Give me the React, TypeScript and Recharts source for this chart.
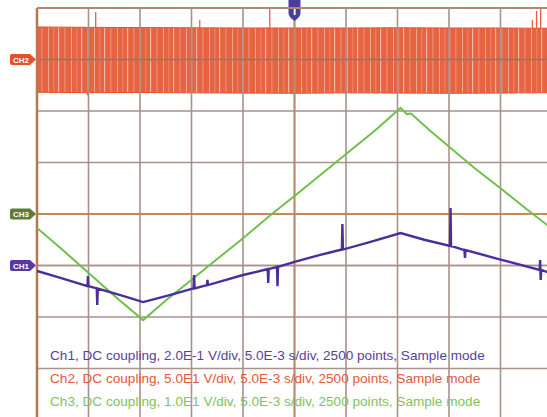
import {
  ComposedChart,
  Line,
  Area,
  XAxis,
  YAxis,
  ReferenceLine,
} from "recharts";

// Time base: 5 ms/div, 10 divisions, trigger at the centre
const TIME_TICKS = [-25, -20, -15, -10, -5, 0, 5, 10, 15, 20, 25];
// Graticule rows, expressed on the Ch3 scale (10 V/div, ground at division 4)
const ROW_TICKS = [-40, -30, -20, -10, 0, 10, 20, 30, 40];

// Ch2 — 50 V/div, ground at division 7. Switching node, drawn as its envelope.
const ch2Time = [-25, -22.5, -20, -15, -10, -5, 0, 5, 10, 15, 20, 22.5, 25];
const ch2High = [31.6, 31.4, 31.2, 31.0, 30.8, 30.6, 30.6, 30.6, 30.8, 30.6, 30.6, 30.4, 30.4];
const ch2Low = [-31.8, -32.0, -32.2, -32.0, -32.4, -32.6, -32.8, -32.4, -32.6, -32.8, -32.6, -32.4, -32.2];
// glitches that poke out of the envelope: [time ms, base V, tip V]
const ch2Spikes: [number, number, number][] = [
  [-20.1, -32.2, -34.6],
  [-19.3, 31.2, 46.1],
  [-9.2, 30.8, 38.3],
  [-2.4, 30.6, 50],
  [23.1, 30.4, 38.3],
  [23.5, 30.4, 47],
  [23.9, 30.4, 50],
];

// Ch3 — 10 V/div, ground at division 4
const ch3Time = [-25, -22.5, -19.9, -17.3, -14.7, -12.5, -10.2, -7.6, -5.0, -2.5, 0, 2.6, 5.1, 7.7, 10.3, 10.9, 11.3, 13.2, 15.1, 17.5, 20.0, 22.3, 24.5, 25];
const ch3Volt = [-2.7, -7.0, -11.6, -16.2, -20.6, -16.8, -13.1, -8.9, -4.7, -0.5, 3.5, 7.7, 11.8, 16.0, 20.6, 19.4, 19.5, 16.1, 12.9, 8.9, 5.0, 1.3, -2.1, -2.9];

// Ch1 — 0.2 V/div, ground at division 3
const ch1Time = [-25, -22.8, -20.1, -20.05, -20.0, -19.2, -19.15, -19.1, -16.9, -14.7, -12.3, -9.8, -9.75, -9.7, -8.5, -8.45, -8.4, -5.0, -2.6, -2.55, -2.5, -1.7, -1.65, -1.6, 0, 2.4, 4.6, 4.65, 4.7, 7.3, 10.3, 12.6, 15.1, 15.15, 15.2, 16.5, 16.55, 16.6, 20.0, 23.8, 23.85, 23.9, 23.95, 24.5, 25];
const ch1Volt = [-0.021, -0.047, -0.08, -0.041, -0.08, -0.089, -0.153, -0.09, -0.115, -0.142, -0.117, -0.089, -0.037, -0.089, -0.076, -0.056, -0.076, -0.037, -0.014, -0.068, -0.014, -0.005, -0.08, -0.005, 0.014, 0.04, 0.062, 0.161, 0.062, 0.091, 0.126, 0.1, 0.076, 0.223, 0.076, 0.06, 0.029, 0.06, 0.023, -0.017, 0.021, -0.056, -0.017, -0.025, -0.031];

const ch2Band = ch2Time.map((t, i) => ({ t, band: [ch2Low[i], ch2High[i]] }));
const ch2SpikeRows = ch2Spikes.flatMap(([t, base, tip]) => [
  { t, v: base },
  { t, v: tip },
  { t: t + 0.001, v: null },
]);
const ch3Rows = ch3Time.map((t, i) => ({ t, v: ch3Volt[i] }));
const ch1Rows = ch1Time.map((t, i) => ({ t, v: ch1Volt[i] }));

const GRID = "#a8928a";
const MARKER_ORANGE = "#cd7b3e";

function ChannelTag(props: { viewBox?: { x: number; y: number }; text: string; fill: string }) {
  const { viewBox, text, fill } = props;
  if (!viewBox) return null;
  const y = viewBox.y;
  const l = viewBox.x - 27;
  const r = viewBox.x - 1;
  const h = 5.5;
  const d = `M${l + 2} ${y - h} L${r - 6} ${y - h} L${r} ${y} L${r - 6} ${y + h} L${l + 2} ${y + h} Q${l} ${y + h} ${l} ${y + h - 2} L${l} ${y - h + 2} Q${l} ${y - h} ${l + 2} ${y - h} Z`;
  return (
    <g>
      <path d={d} fill={fill} />
      <text x={l + 11} y={y + 3} textAnchor="middle" fontSize={8} fontWeight="bold" fill="#fff" fontFamily="Liberation Sans, Arial">
        {text}
      </text>
    </g>
  );
}

// trigger-position flag, sits on the top edge of the screen
function TriggerTag(props: { viewBox?: { x: number; y: number } }) {
  const { viewBox } = props;
  if (!viewBox) return null;
  const x = viewBox.x;
  const top = 0;
  const d = `M${x - 6} ${top} L${x + 6} ${top} L${x + 6} ${top + 13} Q${x + 6} ${top + 17} ${x} ${top + 21} Q${x - 6} ${top + 17} ${x - 6} ${top + 13} Z`;
  return (
    <g>
      <path d={d} fill="#4a3d9c" />
      <text x={x} y={top + 15} textAnchor="middle" fontSize={11} fontWeight="bold" fill="#fff" fontFamily="Liberation Sans, Arial">
        T
      </text>
    </g>
  );
}

const captions = [
  { text: "Ch1, DC coupling, 2.0E-1 V/div, 5.0E-3 s/div, 2500 points, Sample mode", color: "#5a3e9e" },
  { text: "Ch2, DC coupling, 5.0E1 V/div, 5.0E-3 s/div, 2500 points, Sample mode", color: "#e4583c" },
  { text: "Ch3, DC coupling, 1.0E1 V/div, 5.0E-3 s/div, 2500 points, Sample mode", color: "#7fc260" },
];

export default function App() {
  return (
    <div
      style={{
        position: "absolute",
        left: 0,
        top: 0,
        width: 547,
        height: 417,
        overflow: "hidden",
        background: "#fff",
      }}
    >
      <ComposedChart width={560} height={430} margin={{ top: 8, right: 8, bottom: 10, left: 37 }}>
        <defs>
          <pattern id="ch2stripes" width="23" height="10" patternUnits="userSpaceOnUse">
            <rect width="23" height="10" fill="#e4532f" />
            <rect x="2" width="1" height="10" fill="#ef9a82" />
            <rect x="7.5" width="0.7" height="10" fill="#ec8a70" />
            <rect x="12" width="1.2" height="10" fill="#f2ab96" />
            <rect x="18.5" width="0.8" height="10" fill="#ee9478" />
          </pattern>
        </defs>
        <XAxis
          xAxisId="time"
          type="number"
          dataKey="t"
          domain={[-25, 25]}
          ticks={TIME_TICKS}
          allowDataOverflow
          hide
        />
        <YAxis yAxisId="ch1" type="number" domain={[-0.6, 1.0]} hide allowDataOverflow />
        <YAxis yAxisId="ch2" type="number" domain={[-350, 50]} hide allowDataOverflow />
        <YAxis yAxisId="ch3" type="number" domain={[-40, 40]} ticks={ROW_TICKS} hide allowDataOverflow />

        {/* graticule */}
        {TIME_TICKS.map((t) => (
          <ReferenceLine key={`vx${t}`} xAxisId="time" yAxisId="ch3" x={t} stroke={GRID} strokeWidth={1.6} />
        ))}
        {ROW_TICKS.map((d) => (
          <ReferenceLine key={`hy${d}`} xAxisId="time" yAxisId="ch3" y={d} stroke={GRID} strokeWidth={1.6} />
        ))}

        <Area
          xAxisId="time"
          yAxisId="ch2"
          data={ch2Band}
          dataKey="band"
          type="linear"
          stroke="#e4532f"
          strokeWidth={1}
          fill="url(#ch2stripes)"
          fillOpacity={0.9}
          isAnimationActive={false}
        />
        <Line
          xAxisId="time"
          yAxisId="ch2"
          data={ch2SpikeRows}
          dataKey="v"
          stroke="#e8613f"
          strokeWidth={1.3}
          dot={false}
          connectNulls={false}
          isAnimationActive={false}
        />

        <ReferenceLine xAxisId="time" yAxisId="ch3" y={0} stroke={MARKER_ORANGE} strokeWidth={1.6} label={<ChannelTag text="CH3" fill="#5e7c34" />} />
        <ReferenceLine xAxisId="time" yAxisId="ch2" y={0} stroke="#a8442e" strokeWidth={1.4} strokeOpacity={0.5} label={<ChannelTag text="CH2" fill="#e2502e" />} />
        <ReferenceLine xAxisId="time" yAxisId="ch1" y={0} stroke={GRID} strokeWidth={1.6} label={<ChannelTag text="CH1" fill="#5a37a4" />} />
        <ReferenceLine xAxisId="time" yAxisId="ch3" x={0} stroke="#b98a68" strokeWidth={1.8} label={<TriggerTag />} />
        <ReferenceLine xAxisId="time" yAxisId="ch3" x={-25} stroke="#b27a4e" strokeWidth={2.5} />
        <ReferenceLine xAxisId="time" yAxisId="ch3" y={40} stroke="#b08a70" strokeWidth={1.8} />

        <Line
          xAxisId="time"
          yAxisId="ch3"
          data={ch3Rows}
          dataKey="v"
          type="linear"
          stroke="#6fc04c"
          strokeWidth={2}
          dot={false}
          isAnimationActive={false}
        />
        <Line
          xAxisId="time"
          yAxisId="ch1"
          data={ch1Rows}
          dataKey="v"
          type="linear"
          stroke="#4a2e9c"
          strokeWidth={2.4}
          dot={false}
          isAnimationActive={false}
        />
      </ComposedChart>

      <div style={{ position: "absolute", left: 50, top: 347, fontFamily: "Liberation Sans, Arial, sans-serif", fontSize: 13.6 }}>
        {captions.map((c) => (
          <div key={c.text} style={{ color: c.color, height: 23, lineHeight: "17px", whiteSpace: "nowrap" }}>
            {c.text}
          </div>
        ))}
      </div>
    </div>
  );
}
